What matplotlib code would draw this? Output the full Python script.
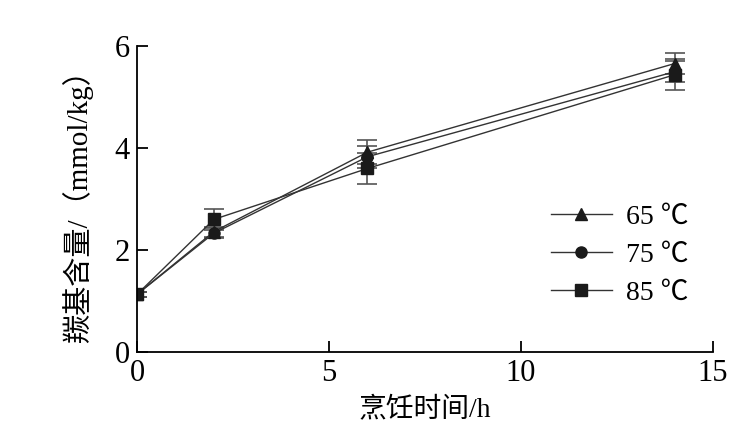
import numpy as np
import matplotlib.pyplot as plt

plt.rcParams['font.family'] = ['Liberation Serif', 'Noto Sans CJK SC']

# Data
time_h = [0, 2, 6, 14]
labels = ['65 ℃', '75 ℃', '85 ℃']
carbonyl = [
    [1.13, 2.36, 3.92, 5.66],
    [1.13, 2.33, 3.83, 5.50],
    [1.13, 2.60, 3.60, 5.44],
]
errors = [
    [0.05, 0.10, 0.24, 0.20],
    [0.05, 0.10, 0.22, 0.20],
    [0.05, 0.20, 0.30, 0.30],
]
markers = ['^', 'o', 's']

fig = plt.figure(figsize=(7.49, 4.36), dpi=100)
ax = fig.add_axes([0.183, 0.193, 0.769, 0.701])

for y, e, m, lab in zip(carbonyl, errors, markers, labels):
    ax.errorbar(time_h, y, yerr=e, color='#333333', lw=1.0, marker=m,
                markersize=8, markerfacecolor='#1a1a1a', markeredgecolor='#1a1a1a',
                ecolor='#555555', elinewidth=1.2, capsize=7, capthick=1.2,
                label=lab)

ax.set_xlim(0, 15)
ax.set_ylim(0, 6)
ax.set_xticks([0, 5, 10, 15])
ax.set_yticks([0, 2, 4, 6])
ax.spines['top'].set_visible(False)
ax.spines['right'].set_visible(False)
ax.spines['left'].set_linewidth(1.3)
ax.spines['bottom'].set_linewidth(1.3)
ax.tick_params(direction='in', length=8, width=1.3, labelsize=22, pad=5)
for sp in ax.spines.values():
    sp.set_clip_on(False)

ax.set_xlabel('烹饪时间/h', fontsize=20, labelpad=6)
ax.set_ylabel('羰基含量/（mmol/kg）', fontsize=21, labelpad=16)

handles, labs = ax.get_legend_handles_labels()
handles = [h[0] for h in handles]
leg = ax.legend(handles, labs, loc='lower right', bbox_to_anchor=(1.0, 0.07),
                frameon=False, fontsize=20, handlelength=2.2, labelspacing=0.45,
                handletextpad=0.5)

plt.savefig('out.png', dpi=100)
